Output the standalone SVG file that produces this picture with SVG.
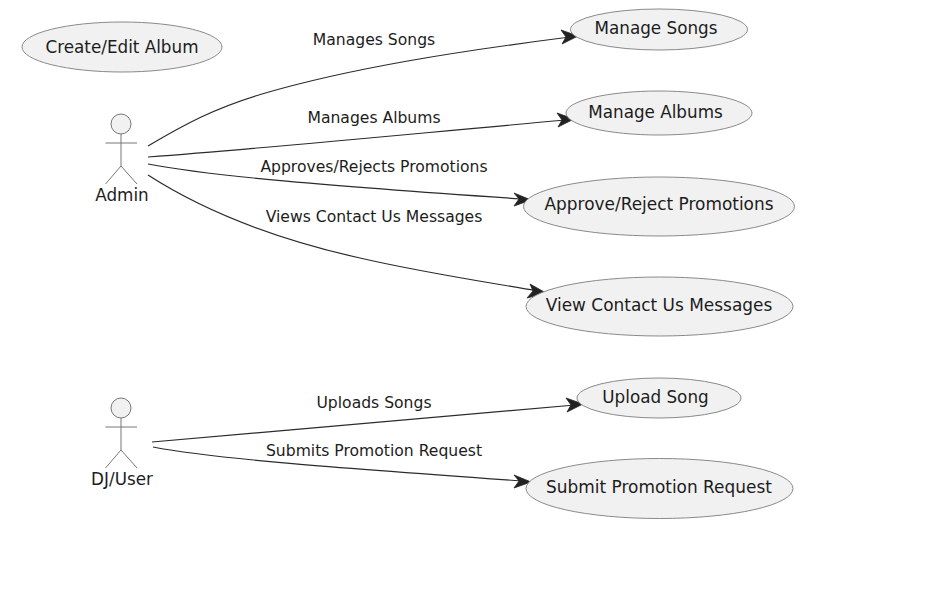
<svg xmlns="http://www.w3.org/2000/svg" width="937" height="589" viewBox="0 0 937 589">
<style>
text{font-family:"DejaVu Sans",sans-serif;fill:#1c1c1c;text-anchor:middle}
.n{font-size:16.800px}
.w{font-size:16.950px}
.l{font-size:15.600px}
ellipse{fill:#f1f1f1;stroke:#8a8a8a;stroke-width:1}
.a circle{fill:#f1f1f1;stroke:#777;stroke-width:1}
.a path{fill:none;stroke:#777;stroke-width:1}
#connectors path.c{fill:none;stroke:#2b2b2b;stroke-width:1.2}
#connectors path.h{fill:#222;stroke:#222;stroke-width:.8}
</style>
<rect width="937" height="589" fill="#fff"/>
<g id="connectors">
<path class="c" d="M148 146C185 124 215 108 262 94C350 68 460 51 570 37"/>
<path class="h" d="M578 36L561 30L566 37L562 44Z"/>
<path class="c" d="M148 157C280 147 420 133 566 120"/>
<path class="h" d="M574 119L557 113L562 120L558 127Z"/>
<path class="c" d="M148 164C210 176 330 186 522 199"/>
<path class="h" d="M531 200L514 193L519 199L514 206Z"/>
<path class="c" d="M148 175C210 215 280 240 360 258C420 272 480 281 538 291"/>
<path class="h" d="M546 293L530 284L533 291L527 298Z"/>
<path class="c" d="M152 442C290 431 430 418 575 405"/>
<path class="h" d="M583 404L566 398L571 405L567 412Z"/>
<path class="c" d="M153 447C215 459 340 468 522 481"/>
<path class="h" d="M531 482L514 475L519 481L514 488Z"/>
</g>
<g id="labels">
<text class="l" x="374" y="45">Manages Songs</text>
<text class="l" x="374" y="123">Manages Albums</text>
<text class="l" x="374" y="172">Approves/Rejects Promotions</text>
<text class="l" x="374" y="222">Views Contact Us Messages</text>
<text class="l" x="374" y="408">Uploads Songs</text>
<text class="l" x="374" y="456">Submits Promotion Request</text>
</g>
<g id="create-edit-album"><ellipse cx="122" cy="47" rx="100" ry="25"/><text class="n" x="122" y="53">Create/Edit Album</text></g>
<g id="manage-songs"><ellipse cx="659" cy="29.500" rx="88.500" ry="20.500"/><text class="n" x="656" y="34">Manage Songs</text></g>
<g id="manage-albums"><ellipse cx="659" cy="113" rx="93" ry="22"/><text class="n" x="655.500" y="118">Manage Albums</text></g>
<g id="approve-reject"><ellipse cx="659" cy="206.500" rx="135.500" ry="29.500"/><text class="w" x="659" y="210">Approve/Reject Promotions</text></g>
<g id="view-contact"><ellipse cx="659.500" cy="306.500" rx="133.500" ry="29.500"/><text class="w" x="659" y="311">View Contact Us Messages</text></g>
<g id="upload-song"><ellipse cx="659" cy="398" rx="82" ry="20"/><text class="n" x="655.500" y="403">Upload Song</text></g>
<g id="submit-promotion"><ellipse cx="659.500" cy="488.500" rx="133.500" ry="30"/><text class="w" x="659" y="493">Submit Promotion Request</text></g>
<g id="admin" class="a"><circle cx="121" cy="124" r="10"/><path d="M121 134V166M105.500 143H137M121 166L105.500 184M121 166L137 184"/><text class="n" x="122" y="201">Admin</text></g>
<g id="dj-user" class="a"><circle cx="121" cy="408" r="10"/><path d="M121 418V450M105.500 427H137M121 450L105.500 468M121 450L137 468"/><text class="n" x="122" y="485">DJ/User</text></g>
</svg>
